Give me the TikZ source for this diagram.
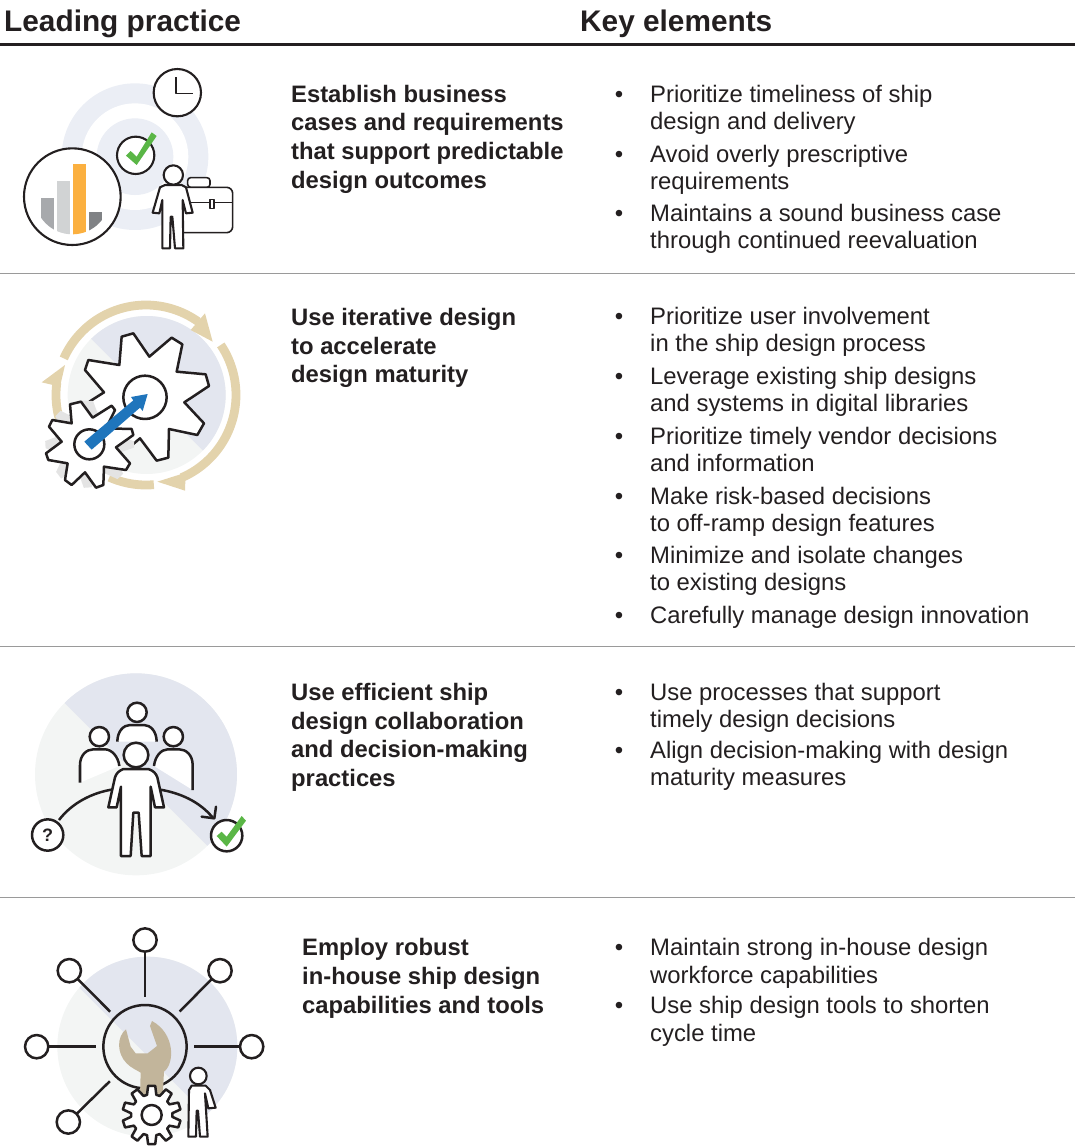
\documentclass[tikz,border=0pt]{standalone}
\usepackage{fontspec}
\setmainfont{Liberation Sans}
\definecolor{ink}{HTML}{231F20}
\definecolor{rulegrey}{HTML}{9A9A9A}
\definecolor{ringblue}{HTML}{EBEEF5}
\definecolor{discblue}{HTML}{E3E6EF}
\definecolor{disclight}{HTML}{F3F5F4}
\definecolor{tanring}{HTML}{E3D3AC}
\definecolor{wrenchtan}{HTML}{C2B59B}
\definecolor{checkgreen}{HTML}{5AB646}
\definecolor{arrowblue}{HTML}{1F75BC}
\definecolor{barone}{HTML}{A7A9AC}
\definecolor{bartwo}{HTML}{D1D3D4}
\definecolor{barthree}{HTML}{FBB040}
\definecolor{barfour}{HTML}{808285}
\definecolor{shadowgrey}{HTML}{E4E4E4}
\tikzset{
  head/.style={font=\bfseries\fontsize{29.8}{32}\selectfont,text=ink,inner sep=0pt,anchor=base west},
  lead/.style={font=\bfseries\fontsize{23.8}{28.7}\selectfont,text=ink,inner sep=0pt,anchor=north west,align=left,yshift=20.1pt},
  keyt/.style={font=\fontsize{23.85}{27}\selectfont,text=ink,inner sep=0pt,anchor=north west,align=left,yshift=18.9pt},
  keytw/.style={font=\fontsize{23.85}{28.5}\selectfont,text=ink,inner sep=0pt,anchor=north west,align=left,yshift=19.95pt},
  bul/.style={font=\fontsize{24}{27}\selectfont,text=ink,inner sep=0pt,anchor=base},
  strk/.style={draw=ink,line width=2.1pt,line join=round},
  thick2/.style={draw=ink,line width=2.5pt,line join=round},
  zoomed/.style={x=0.33333pt,y=-0.33333pt},
  sat/.style={circle,draw=ink,line width=2.5pt,fill=white,inner sep=0pt,outer sep=0pt,minimum size=23.3pt},
  hubn/.style={circle,draw=ink,line width=2.5pt,inner sep=0pt,outer sep=0pt,minimum size=83.3pt},
  spoke/.style={draw=ink,line width=2.5pt,shorten >=7.7pt},
  tanarc/.style={draw=tanring,line width=8.8pt,smooth,samples=50},
}
\newcommand{\splitdisc}[5]{%
  \fill[disclight] (#1,#2) circle[radius=#3];
  \begin{scope}
    \clip (#1,#2) circle[radius=#3];
    \fill[discblue] (#4,#5) ++(-900,-900) -- ++(1800,1800) -- ++(0,-1800) -- cycle;
  \end{scope}}
\newcommand{\ringarc}[2]{%
  \draw[tanarc,domain=#1:#2] plot ({378+270*cos(\x)},{330-270*sin(\x)});}
\newcommand{\smallgearpath}{(150,358) -- (183,350) -- (218,398) -- (275,362) -- (285,375) -- (258,430) -- (335,432) -- (340,450) -- (288,487) -- (330,535) -- (318,555) -- (252,545) -- (250,600) -- (228,608) -- (195,562) -- (155,600) -- (135,585) -- (143,535) -- (85,525) -- (78,505) -- (125,470) -- (87,425) -- (97,405) -- (155,415) -- cycle}
\newcommand{\keyitem}[3]{\node[bul] (b#1) at (619,#2) {•}; \node[keyt] (k#1) at (650,#2) {\strut #3};}
\newcommand{\keyitemw}[3]{\node[bul] (b#1) at (619,#2) {•}; \node[keytw] (k#1) at (650,#2) {\strut #3};}
\begin{document}
\begin{tikzpicture}[x=1pt,y=-1pt]
\useasboundingbox (0,0) rectangle (1075,1146);
% header
\node[head] (hl) at (4,31) {Leading practice};
\node[head] (hk) at (580,31) {Key elements};
\coordinate (r0a) at (0,44.5); \coordinate (r0b) at (1075,44.5);
\draw[ink,line width=2.6pt] (r0a) -- (r0b);
\draw[rulegrey,line width=1pt] (0,273) -- (1075,273);
\draw[rulegrey,line width=1pt] (0,646) -- (1075,646);
\draw[rulegrey,line width=1pt] (0,897) -- (1075,897);
% lead text
\node[lead] (l1) at (291,102) {\strut Establish business\\cases and requirements\\that support predictable\\design outcomes};
\node[lead] (l2) at (291,325.3) {\strut Use iterative design\\to accelerate\\design maturity};
\node[lead] (l3) at (291,700.3) {\strut Use efficient ship\\design collaboration\\and decision-making\\practices};
\node[lead] (l4) at (302,955.5) {\strut Employ robust\\in-house ship design\\capabilities and tools};
% key elements
\keyitem{a}{102}{Prioritize timeliness of ship\\design and delivery}
\keyitem{b}{162}{Avoid overly prescriptive\\requirements}
\keyitem{c}{221.5}{Maintains a sound business case\\through continued reevaluation}
\keyitem{d}{324.5}{Prioritize user involvement\\in the ship design process}
\keyitem{e}{384.5}{Leverage existing ship designs\\and systems in digital libraries}
\keyitem{f}{444.5}{Prioritize timely vendor decisions\\and information}
\keyitem{g}{504.5}{Make risk-based decisions\\to off-ramp design features}
\keyitem{h}{563.5}{Minimize and isolate changes\\to existing designs}
\keyitem{i}{623.5}{Carefully manage design innovation}
\keyitem{j}{700}{Use processes that support\\timely design decisions}
\keyitem{k}{758}{Align decision-making with design\\maturity measures}
\keyitemw{l}{955}{Maintain strong in-house design\\workforce capabilities}
\keyitemw{m}{1013}{Use ship design tools to shorten\\cycle time}
% ---------- icon 1
\begin{scope}[shift={(0,50)},zoomed]
  \fill[ringblue] (405,320) circle[radius=220];
  \fill[white] (405,320) circle[radius=160];
  \fill[ringblue] (405,320) circle[radius=115];
  \path[strk,fill=white] (532,128) circle[radius=71];
  \draw[strk,line width=1.4pt] (528,82) -- (528,131) -- (578,131);
  \path[strk,fill=white] (407,316) circle[radius=56];
  \fill[checkgreen] (378,317) -- (392,303) -- (410,320) -- (455,247) -- (470,258) -- (410,345) -- cycle;
  \path[strk,fill=white] (217,440) circle[radius=145];
  \begin{scope}
    \clip (217,440) circle[radius=113];
    \fill[barone] (123,445) rectangle (162,600);
    \fill[bartwo] (170,392) rectangle (209,600);
    \fill[barthree] (218,342) rectangle (258,600);
    \fill[barfour] (266,487) rectangle (305,600);
  \end{scope}
  \path[strk,fill=white,line width=1.6pt,rounded corners=3pt] (563,412) -- (563,383) -- (630,383) -- (630,412) -- cycle;
  \path[strk,fill=white,line width=1.6pt,rounded corners=6pt] (530,412) -- (698,412) -- (698,548) -- (530,548) -- cycle;
  \draw[strk,line width=1.4pt] (540,457) -- (698,457);
  \path[strk,fill=white,line width=1.2pt] (630,448) rectangle (642,475);
  \path[strk,fill=white] (495,405) -- (545,405) -- (558,412) -- (578,488) -- (558,490) -- (548,450) -- (550,595) -- (525,595) -- (517,500) -- (512,500) -- (510,595) -- (487,595) -- (487,450) -- (478,490) -- (458,488) -- (480,412) -- cycle;
  \path[strk,fill=white] (520,375) circle[radius=29];
\end{scope}
% ---------- icon 2
\begin{scope}[shift={(20,285)},zoomed]
  \splitdisc{380}{330}{237}{212}{160}
  \ringarc{156}{54.5}
  \fill[tanring] (555,85) -- (578,170) -- (512,135) -- cycle;
  \ringarc{33.8}{-66.7}
  \fill[tanring] (412,590) -- (497,563) -- (495,617) -- cycle;
  \ringarc{-85}{-114}
  \ringarc{195}{172}
  \fill[tanring] (65,292) -- (135,240) -- (120,305) -- cycle;
  \fill[white] (208,350) -- (252,322) -- (195,255) -- (205,225) -- (298,240) -- (305,155) -- (340,145) -- (388,215) -- (455,158) -- (487,178) -- (470,260) -- (557,268) -- (567,303) -- (493,352) -- (552,415) -- (532,450) -- (447,432) -- (445,518) -- (410,527) -- (360,460) -- (328,487) -- cycle;
  \draw[thick2] (208,350) -- (252,322) -- (195,255) -- (205,225) -- (298,240) -- (305,155) -- (340,145) -- (388,215) -- (455,158) -- (487,178) -- (470,260) -- (557,268) -- (567,303) -- (493,352) -- (552,415) -- (532,450) -- (447,432) -- (445,518) -- (410,527) -- (360,460) -- (328,487);
  \path[thick2,fill=white] (375,337) circle[radius=65];
  \fill[shadowgrey,rotate around={-16:(208,478)}] \smallgearpath;
  \path[thick2,fill=white] \smallgearpath;
  \path[thick2,fill=white] (208,478) circle[radius=45];
  \fill[arrowblue] (193,470) -- (340,346) -- (333,336) -- (383,327) -- (368,378) -- (360,368) -- (215,494) -- cycle;
\end{scope}
% ---------- icon 3
\begin{scope}[shift={(20,660)},zoomed]
  \splitdisc{348}{343}{303}{135}{130}
  \path[thick2,fill=white] (292,245) .. controls (292,215) and (310,195) .. (330,195) -- (372,195) .. controls (392,195) and (410,215) .. (410,245);
  \path[thick2,fill=white] (351,157) circle[radius=29];
  \path[thick2,fill=white] (180,368) -- (180,315) .. controls (180,285) and (200,268) .. (220,268) -- (255,268) .. controls (275,268) and (295,290) .. (298,318);
  \path[thick2,fill=white] (238,230) circle[radius=29];
  \path[thick2,fill=white] (518,390) -- (518,315) .. controls (518,285) and (498,268) .. (478,268) -- (443,268) .. controls (423,268) and (405,290) .. (402,318);
  \path[thick2,fill=white] (460,230) circle[radius=29];
  \draw[thick2] (117,480) .. controls (155,430) and (215,398) .. (280,388);
  \draw[thick2] (415,388) .. controls (480,398) and (540,425) .. (580,475);
  \draw[thick2,line cap=round] (545,470) -- (583,475) -- (588,440);
  \path[thick2,fill=white] (310,327) -- (385,327) .. controls (400,332) and (408,340) .. (412,352) -- (432,442) -- (405,442) -- (392,380) -- (392,588) -- (365,588) -- (356,458) -- (340,458) -- (332,588) -- (303,588) -- (303,380) -- (290,442) -- (265,442) -- (285,352) .. controls (289,340) and (297,332) .. (310,327) -- cycle;
  \path[thick2,fill=white] (348,285) circle[radius=37];
  \node[sat,minimum size=31.3pt] (qm) at (83,525) {\fontsize{18}{20}\bfseries\selectfont\textcolor{ink}{?}};
  \path[thick2,fill=white] (620,527) circle[radius=47];
  \fill[checkgreen] (590,528) -- (605,515) -- (620,530) -- (665,468) -- (678,482) -- (620,560) -- cycle;
\end{scope}
% ---------- icon 4
\begin{scope}[shift={(15,920)},zoomed]
  \splitdisc{397}{380}{270}{185}{195}
  \node[hubn] (hub) at (390,380) {};
  \node[sat] (s1) at (390,60) {};
  \node[sat] (s2) at (163,152) {};
  \node[sat] (s3) at (615,152) {};
  \node[sat] (s4) at (65,380) {};
  \node[sat] (s5) at (710,380) {};
  \node[sat] (s6) at (160,606) {};
  \foreach \s in {s1,s2,s3,s4,s5,s6} \draw[spoke] (\s) -- (hub);
  \fill[wrenchtan] (333,328) .. controls (305,350) and (305,400) .. (335,430) .. controls (350,445) and (365,450) .. (377,458) -- (375,530) -- (443,530) -- (447,455) .. controls (480,430) and (480,340) .. (411,303) -- (405,318) -- (426,378) -- (398,400) -- (362,400) -- (347,380) -- cycle;
  \begin{scope}[shift={(410,585)}]
    \path[thick2,fill=white] (77:62) \foreach \a in {90,126,...,414} { -- ({\a-13}:62) -- ({\a-7}:88) -- ({\a+7}:88) -- ({\a+13}:62) } -- cycle;
    \path[thick2,fill=white] (0,0) circle[radius=30];
  \end{scope}
  \path[strk,fill=white] (522,510) -- (530,497) -- (572,497) -- (585,510) -- (602,563) -- (580,565) -- (570,520) -- (578,650) -- (555,650) -- (549,572) -- (545,572) -- (543,650) -- (520,650) -- cycle;
  \path[strk,fill=white] (550,468) circle[radius=25];
\end{scope}
\end{tikzpicture}
\end{document}
